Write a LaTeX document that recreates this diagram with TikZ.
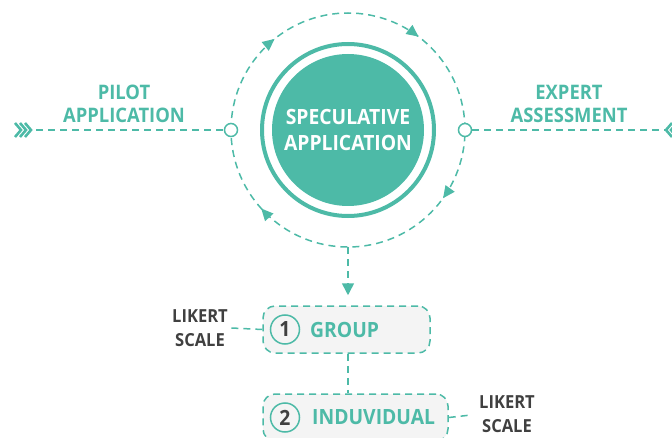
\documentclass[tikz,border=0pt]{standalone}
\usepackage{fontspec}
\setmainfont{Open Sans}[FakeStretch=0.92]
\usetikzlibrary{arrows.meta,decorations.markings,positioning}
\definecolor{teal}{HTML}{4DBAA7}
\definecolor{ink}{HTML}{404040}
\definecolor{boxgray}{HTML}{F4F4F4}
\tikzset{
	dashline/.style={draw=teal, line width=1.5pt, dash pattern=on 7pt off 5pt},
	port/.style={circle, draw=teal, fill=white, line width=1.5pt, minimum size=13pt, inner sep=0pt},
	stagebox/.style={draw=teal, fill=boxgray, line width=1.5pt, dash pattern=on 7pt off 5pt, rounded corners=12pt, minimum height=47pt},
	numring/.style={circle, draw=teal, line width=1.5pt, minimum size=29pt, inner sep=0pt, text=ink, font=\fontsize{21}{24}\selectfont\bfseries},
	stagetext/.style={text=teal, anchor=west, inner sep=0pt, font=\fontsize{21}{24}\selectfont\bfseries},
	phase/.style={text=teal, align=center, font=\fontsize{20}{22.5}\selectfont\bfseries},
	likert/.style={text=ink, align=center, font=\fontsize{18}{24}\selectfont\bfseries},
	chevron/.style={draw=teal, line width=2.6pt, line join=miter},
}
\begin{document}
\begin{tikzpicture}[x=1pt,y=1pt]
					\useasboundingbox (0,0) rectangle (672,437);
					\clip (0,0) rectangle (672,437);
					\coordinate (ctr) at (348,307);
					% orbit with clockwise arrows
					\draw[dashline, postaction={decorate}, decoration={markings,
						mark=at position 0.142 with {\arrow{Triangle[length=12pt,width=11pt]}},
						mark=at position 0.353 with {\arrow{Triangle[length=12pt,width=11pt]}},
						mark=at position 0.599 with {\arrow{Triangle[length=12pt,width=11pt]}},
						mark=at position 0.883 with {\arrow{Triangle[length=12pt,width=11pt]}}}]
						([shift={(180:117)}]ctr) arc[start angle=180, end angle=-180, radius=117];
					\node[circle, draw=teal, line width=4pt, minimum size=172pt] (ring) at (ctr) {};
					\node[circle, fill=teal, minimum size=152pt, text=white, align=center,
						font=\fontsize{21}{25}\selectfont\bfseries] (spec) at (ctr) {SPECULATIVE\\APPLICATION};
					\node[port] (lft) at ([shift={(180:117)}]ctr) {};
					\node[port] (rgt) at ([shift={(0:117)}]ctr) {};
					\coordinate (bot) at ([shift={(-90:117)}]ctr);
					% side phases
					\node[phase] (pilot) at (124,333) {PILOT\\APPLICATION};
					\node[phase] (expert) at (569,333) {EXPERT\\ASSESSMENT};
					\coordinate (pin) at (36,307);
					\coordinate (pout) at (665,307);
					\foreach \i in {0,1,2}
						\draw[chevron] (15+5*\i,314) -- (21+5*\i,307) -- (15+5*\i,300);
					\foreach \i in {0,1,2}
						\draw[chevron] (672+5*\i,314) -- (666+5*\i,307) -- (672+5*\i,300);
					\draw[dashline] (pin) -- (lft);
					\draw[dashline] (rgt) -- (pout);
					% stages
					\node[stagebox, minimum width=167pt] (grp) at (346.5,107.5) {};
					\node[stagebox, minimum width=185pt] (ind) at (355.5,19.5) {};
					\node[numring] (n1) at (285,107.5) {1};
					\node[numring] (n2) at (285,19.5) {2};
					\node[stagetext] (grptxt) at (310,107.5) {GROUP};
					\node[stagetext] (indtxt) at (312,19.5) {INDUVIDUAL};
					\node[likert] (lk1) at (200,109) {LIKERT\\SCALE};
					\node[likert] (lk2) at (507,22.5) {LIKERT\\SCALE};
					\draw[dashline, -{Triangle[length=12pt,width=12pt]}, shorten >=10pt] (bot) -- (bot |- grp.north);
					\draw[dashline] (grp.south -| ctr) -- (ind.north -| ctr);
					\draw[dashline] (lk1.east) -- (grp.west);
					\draw[dashline, shorten >=6pt] (ind.east) -- (lk2.west);
\end{tikzpicture}
\end{document}
